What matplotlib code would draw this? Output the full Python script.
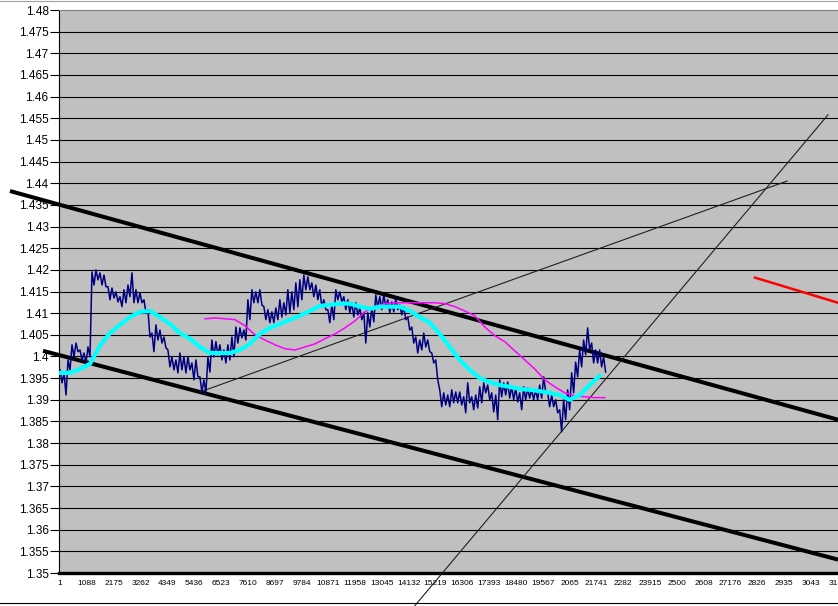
import numpy as np
import matplotlib
matplotlib.use('Agg')
import matplotlib.pyplot as plt
from matplotlib.lines import Line2D
from matplotlib.ticker import FuncFormatter

# category labels, as shown (the long ones got cut off)
x_labels = ['1', '1088', '2175', '3262', '4349', '5436', '6523', '7610', '8697',
            '9784', '10871', '11958', '13045', '14132', '15219', '16306', '17393',
            '18480', '19567', '2065', '21741', '2282', '23915', '2500', '2608',
            '27176', '2826', '2935', '3043', '3152']
x_label_step = 1087

# price series, read as high/low pairs
blue_step = 81
blue_high = [1.3969, 1.3962, 1.3992, 1.4027, 1.4031, 1.4015, 1.4008, 1.4022, 1.4195, 1.4200,
             1.4193, 1.4188, 1.4161, 1.4158, 1.4149, 1.4138, 1.4154, 1.4165, 1.4193, 1.4154,
             1.4147, 1.4131, 1.4108, 1.4054, 1.4073, 1.4061, 1.4045, 1.4015, 1.3999, 1.3992,
             1.4008, 1.3999, 1.3999, 1.3985, 1.3992, 1.3953, 1.3946, 1.3999, 1.4038, 1.4034,
             1.4027, 1.4015, 1.4027, 1.4045, 1.4068, 1.4066, 1.4061, 1.4131, 1.4154, 1.4149,
             1.4154, 1.4115, 1.4108, 1.4103, 1.4112, 1.4131, 1.4124, 1.4154, 1.4149, 1.4170,
             1.4177, 1.4188, 1.4184, 1.4170, 1.4165, 1.4154, 1.4131, 1.4108, 1.4119, 1.4154,
             1.4149, 1.4138, 1.4131, 1.4124, 1.4124, 1.4112, 1.4101, 1.4101, 1.4112, 1.4142,
             1.4138, 1.4142, 1.4131, 1.4126, 1.4135, 1.4119, 1.4115, 1.4091, 1.4068, 1.4045,
             1.4038, 1.4054, 1.4038, 1.4008, 1.3992, 1.3923, 1.3916, 1.3911, 1.3923, 1.3918,
             1.3918, 1.3907, 1.3939, 1.3907, 1.3911, 1.3930, 1.3939, 1.3934, 1.3916, 1.3911,
             1.3946, 1.3939, 1.3941, 1.3930, 1.3927, 1.3916, 1.3930, 1.3927, 1.3923, 1.3923,
             1.3934, 1.3953, 1.3916, 1.3911, 1.3900, 1.3877, 1.3900, 1.3923, 1.3962, 1.3987,
             1.4015, 1.4038, 1.4066, 1.4031, 1.4015, 1.4015, 1.3999]
blue_low = [1.3939, 1.3911, 1.3969, 1.3999, 1.4011, 1.3992, 1.3985, 1.3999, 1.4165, 1.4177,
            1.4165, 1.4161, 1.4131, 1.4135, 1.4126, 1.4115, 1.4124, 1.4138, 1.4124, 1.4124,
            1.4124, 1.4101, 1.4045, 1.4011, 1.4038, 1.4031, 1.4020, 1.3976, 1.3969, 1.3962,
            1.3969, 1.3962, 1.3969, 1.3946, 1.3953, 1.3918, 1.3916, 1.3964, 1.3999, 1.4004,
            1.3992, 1.3985, 1.3992, 1.3999, 1.4031, 1.4043, 1.4038, 1.4085, 1.4124, 1.4124,
            1.4119, 1.4085, 1.4078, 1.4078, 1.4085, 1.4091, 1.4096, 1.4101, 1.4108, 1.4115,
            1.4131, 1.4154, 1.4154, 1.4138, 1.4131, 1.4115, 1.4108, 1.4078, 1.4085, 1.4131,
            1.4126, 1.4108, 1.4101, 1.4091, 1.4096, 1.4085, 1.4031, 1.4068, 1.4080, 1.4112,
            1.4108, 1.4115, 1.4101, 1.4103, 1.4108, 1.4096, 1.4085, 1.4061, 1.4031, 1.4008,
            1.4015, 1.4022, 1.4011, 1.3985, 1.3946, 1.3884, 1.3888, 1.3884, 1.3893, 1.3893,
            1.3888, 1.3870, 1.3893, 1.3877, 1.3881, 1.3893, 1.3916, 1.3900, 1.3872, 1.3854,
            1.3907, 1.3911, 1.3904, 1.3900, 1.3895, 1.3877, 1.3900, 1.3904, 1.3900, 1.3900,
            1.3904, 1.3918, 1.3884, 1.3884, 1.3870, 1.3826, 1.3854, 1.3877, 1.3916, 1.3953,
            1.3976, 1.4004, 1.4015, 1.3985, 1.3985, 1.3976, 1.3964]

# moving averages
ma_step = 405
cyan_ma = [1.3962, 1.3962, 1.3971, 1.3983, 1.4025, 1.4054, 1.4073, 1.4091, 1.4103, 1.4105,
           1.4091, 1.4075, 1.4054, 1.4041, 1.4022, 1.4008, 1.4008, 1.4008, 1.4015, 1.4029,
           1.4052, 1.4066, 1.4075, 1.4085, 1.4094, 1.4105, 1.4117, 1.4119, 1.4122, 1.4122,
           1.4115, 1.4110, 1.4115, 1.4115, 1.4115, 1.4105, 1.4091, 1.4078, 1.4052, 1.4022,
           1.3992, 1.3969, 1.3950, 1.3941, 1.3934, 1.3930, 1.3925, 1.3923, 1.3920, 1.3916,
           1.3911, 1.3900, 1.3911, 1.3934, 1.3955]
magenta_start = 5878
magenta_ma = [1.4087, 1.4089, 1.4087, 1.4085, 1.4071, 1.4050, 1.4038, 1.4027, 1.4018, 1.4015,
              1.4022, 1.4029, 1.4041, 1.4052, 1.4066, 1.4082, 1.4103, 1.4115, 1.4122, 1.4124,
              1.4124, 1.4124, 1.4124, 1.4124, 1.4122, 1.4115, 1.4105, 1.4094, 1.4068, 1.4048,
              1.4034, 1.4013, 1.3992, 1.3971, 1.3946, 1.3930, 1.3916, 1.3909, 1.3907, 1.3905,
              1.3905]

# hand drawn lines: (x0, x1), (y0, y1)
chan_upper = ([-2026, 31532], [1.4382, 1.3854])
chan_lower = ([-688, 31532], [1.4013, 1.3531])
trend_a = ([5675, 29466], [1.3918, 1.4405])
trend_b = ([14389, 31127], [1.3425, 1.4558])
red_line = ([28168, 31532], [1.4182, 1.4124])

fig = plt.figure(figsize=(8.38, 6.06), dpi=100)
ax = fig.add_axes([59 / 838, 33 / 606, 779 / 838, 563 / 606])
ax.set_facecolor('#c0c0c0')

yticks = np.arange(1.35, 1.4801, 0.005)
for y in yticks[1:-1]:
    ax.axhline(y, color='black', lw=0.8, zorder=1)

for (xs, ys), lw in [(chan_upper, 2.9), (chan_lower, 2.9)]:
    ax.plot(xs, ys, color='black', lw=lw, clip_on=False, zorder=3,
            solid_capstyle='butt')
for xs, ys in [trend_a, trend_b]:
    ax.plot(xs, ys, color='#202020', lw=0.8, clip_on=False, zorder=3)
ax.plot(*red_line, color='#ff0000', lw=1.8, zorder=3)

blue = np.column_stack((blue_high, blue_low)).ravel()
blue_x = 1 + np.arange(len(blue)) * blue_step
ax.plot(blue_x, blue, color='#000080', lw=1.1, zorder=4)

mag_x = magenta_start + np.arange(len(magenta_ma)) * ma_step
ax.plot(mag_x, magenta_ma, color='#ff00ff', lw=1.1, zorder=5)

cyan_x = 1 + np.arange(len(cyan_ma)) * ma_step
ax.plot(cyan_x, cyan_ma, color='#00ffff', lw=3.0, zorder=6)

ax.set_xlim(-40, 31532)
ax.set_ylim(1.35, 1.48)

ax.set_yticks(yticks)
ax.yaxis.set_major_formatter(FuncFormatter(lambda v, p: '%g' % round(v, 3)))
ax.tick_params(axis='y', direction='out', length=6.5, width=0.8, pad=1,
               labelsize=8.5, colors='black')
ax.set_xticks([1 + i * x_label_step for i in range(len(x_labels))])
ax.set_xticklabels(x_labels)
ax.tick_params(axis='x', length=0, pad=5, labelsize=6)
for lbl in ax.get_xticklabels() + ax.get_yticklabels():
    lbl.set_family('Liberation Sans')

ax.spines['right'].set_visible(False)
ax.spines['top'].set_color('#808080')
ax.spines['top'].set_linewidth(0.8)
ax.spines['left'].set_linewidth(0.8)
ax.spines['bottom'].set_linewidth(2.4)

fig.add_artist(Line2D([0, 1], [3 / 606, 3 / 606], color='black', lw=0.8))
fig.add_artist(Line2D([0, 1], [605.5 / 606, 605.5 / 606], color='#a0a0a0', lw=0.8))

fig.savefig('out.png', dpi=100)
